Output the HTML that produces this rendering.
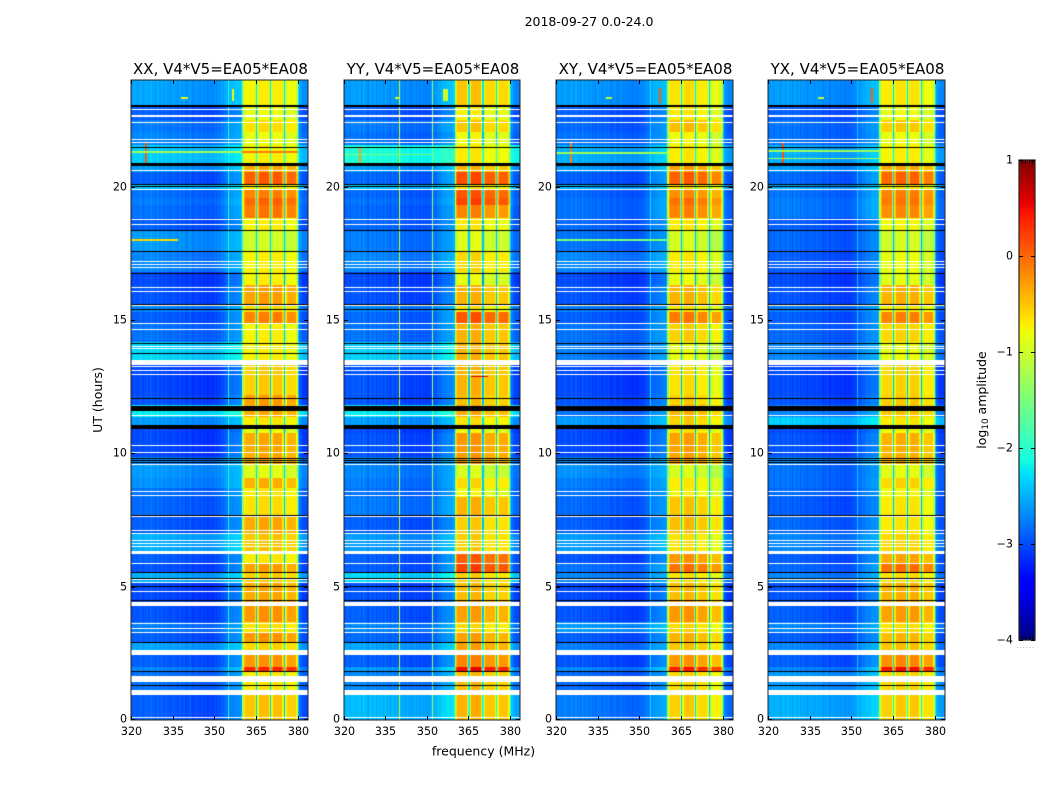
<!DOCTYPE html>
<html lang="en">
<head>
<meta charset="utf-8">
<title>2018-09-27 amplitude waterfall</title>
<style>
html,body{margin:0;padding:0;background:#fff;}
#chart{position:relative;width:1050px;height:800px;overflow:hidden;background:#fff;}
canvas{position:absolute;display:block;}
svg{position:absolute;left:0;top:0;}
text{font-family:"DejaVu Sans","Liberation Sans",sans-serif;fill:#000;}
</style>
</head>
<body>
<div id="chart">
  <canvas id="cv0" width="177" height="640" style="left:131px;top:80px"></canvas>
  <canvas id="cv1" width="176" height="640" style="left:344px;top:80px"></canvas>
  <canvas id="cv2" width="177" height="640" style="left:556px;top:80px"></canvas>
  <canvas id="cv3" width="177" height="640" style="left:768px;top:80px"></canvas>
  <canvas id="cbar" width="16" height="480" style="left:1019px;top:160px"></canvas>
  <svg id="overlay" width="1050" height="800">
    <text x="589" y="26" text-anchor="middle" font-size="12.5">2018-09-27 0.0-24.0</text>
    <text x="483.500" y="755.500" text-anchor="middle" font-size="12.5">frequency (MHz)</text>
    <text x="0" y="0" transform="translate(102 400) rotate(-90)" text-anchor="middle" font-size="12.500">UT (hours)</text>
    <text x="0" y="0" transform="translate(986 400) rotate(-90)" text-anchor="middle" font-size="12.5">log<tspan font-size="8.8" dy="2">10</tspan><tspan dy="-2"> amplitude</tspan></text>
  </svg>
</div>
<script>
// ---- axis categories / tick labels ----
const panelTitles = ["XX, V4*V5=EA05*EA08", "YY, V4*V5=EA05*EA08", "XY, V4*V5=EA05*EA08", "YX, V4*V5=EA05*EA08"];
const xTicks = [320, 335, 350, 365, 380];
const yTicks = [0, 5, 10, 15, 20];
const colorTicks = [1, 0, -1, -2, -3, -4];
const colorMinorTicks = [0.2, 0.4, 0.6, 0.8];

// ---- time bands: start hour of each band (ascending, last one ends at 24 h) ----
const bandStarts = [0,0.94,1.84,1.99,2.62,2.92,3.3,3.67,4.5,5.14,5.55,5.89,6.26,7.01,7.69,8.36,8.7,9.07,9.56,9.86,10.76,11.06,11.36,11.81,12.19,13.5,14.17,14.89,15.3,15.56,16.31,16.8,17.55,18.37,18.82,19.31,19.57,19.87,20.06,20.55,20.89,21.56,22.05,22.5,23.06];

// ---- log10 amplitude inside 360-380 MHz for each band ----
const brightXX = [-.5,-.7,.35,-.25,-.6,-.25,-.65,-.25,-.35,-.55,-.3,-.7,-.5,-.35,-.65,-.7,-.4,-.9,-.35,-.35,-.85,-.7,-.35,-.3,-.55,-.75,-.75,-.15,-.6,-.3,-.75,-.75,-1,-.75,-.1,0,-.15,-.7,.05,-.35,-.75,-.85,-.65,-.85,-.75];
const brightYY = [-.45,-.5,.45,-.2,-.35,-.35,-.65,-.35,-.5,-.6,.15,0,-.6,-.6,-.45,-.85,-.65,-1,-.35,-.3,-.85,-.7,-.4,-.5,-.45,-.45,-.45,.05,-.7,-.45,-.9,-.65,-.95,-.75,-.2,.15,.05,-.7,.1,-.45,-.75,-.85,-.55,-.8,-.55];
const brightXY = [-.6,-.65,.35,-.3,-.55,-.45,-.65,-.3,-.5,-.7,-.1,-.3,-.7,-.5,-.55,-.8,-.75,-1,-.35,-.35,-.7,-.6,-.45,-.6,-.7,-.9,-.6,-.15,-.7,-.45,-.9,-.75,-1,-.75,-.2,-.1,-.25,-.7,0,-.35,-.75,-.85,-.5,-.75,-.7];
const brightYX = [-.55,-.6,.45,-.2,-.5,-.45,-.65,-.3,-.4,-.65,-.05,-.35,-.6,-.7,-.7,-.8,-.6,-.9,-.4,-.4,-.8,-.7,-.5,-.55,-.6,-.85,-.6,-.15,-.7,-.4,-.9,-.85,-1,-.8,-.2,-.1,-.15,-.7,0,-.35,-.75,-.85,-.55,-.85,-.7];

// ---- log10 amplitude of the off-band background for each band ----
const noiseXX = [-3.0,-2.9,-2.8,-3.0,-2.65,-3.0,-2.85,-3.05,-3.1,-2.6,-3.05,-3.0,-2.6,-3.0,-2.95,-2.9,-2.75,-2.7,-2.8,-3.1,-3.1,-2.7,-2.3,-3.05,-3.1,-2.4,-2.9,-3.0,-2.8,-3.05,-3.1,-2.8,-2.7,-3.0,-2.9,-2.85,-2.9,-2.5,-3.0,-2.7,-2.45,-2.8,-2.85,-3.0,-2.65];
const noiseYY = [-2.55,-2.8,-2.7,-3.0,-2.65,-2.95,-2.8,-3.0,-3.05,-2.4,-3.0,-3.0,-2.7,-3.0,-2.85,-2.9,-2.85,-2.8,-2.8,-3.05,-3.1,-2.7,-2.3,-3.05,-3.05,-2.45,-2.9,-2.95,-2.8,-3.05,-3.1,-2.8,-2.85,-2.95,-2.95,-2.9,-2.95,-2.5,-2.95,-2.7,-2.15,-2.9,-2.85,-3.0,-2.7];
const noiseXY = [-2.85,-2.95,-2.8,-3.05,-2.85,-3.0,-2.7,-3.05,-3.1,-2.8,-2.9,-3.05,-2.7,-3.0,-2.95,-2.9,-2.85,-2.75,-2.8,-3.1,-3.1,-2.7,-2.9,-3.05,-3.1,-2.85,-2.9,-3.0,-2.85,-3.05,-3.1,-2.8,-2.9,-2.95,-2.9,-2.9,-2.95,-2.6,-3.0,-2.7,-2.6,-2.9,-2.95,-3.0,-2.7];
const noiseYX = [-2.6,-2.7,-2.8,-3.0,-2.8,-3.0,-2.8,-3.0,-3.05,-2.8,-2.95,-3.0,-2.8,-2.95,-3.0,-2.95,-2.9,-2.9,-2.8,-3.05,-3.1,-2.45,-2.8,-3.05,-3.1,-2.8,-2.95,-3.0,-2.85,-3.05,-3.1,-3.0,-2.95,-3.0,-2.85,-2.85,-2.9,-2.6,-2.95,-2.7,-2.6,-2.9,-2.9,-3.0,-2.7];

// ---- spectral shape: one entry per 0.5 MHz channel from 320 MHz ----
const channelFreqs = [320,320.5,321,321.5,322,322.5,323,323.5,324,324.5,325,325.5,326,326.5,327,327.5,328,328.5,329,329.5,330,330.5,331,331.5,332,332.5,333,333.5,334,334.5,335,335.5,336,336.5,337,337.5,338,338.5,339,339.5,340,340.5,341,341.5,342,342.5,343,343.5,344,344.5,345,345.5,346,346.5,347,347.5,348,348.5,349,349.5,350,350.5,351,351.5,352,352.5,353,353.5,354,354.5,355,355.5,356,356.5,357,357.5,358,358.5,359,359.5,360,360.5,361,361.5,362,362.5,363,363.5,364,364.5,365,365.5,366,366.5,367,367.5,368,368.5,369,369.5,370,370.5,371,371.5,372,372.5,373,373.5,374,374.5,375,375.5,376,376.5,377,377.5,378,378.5,379,379.5,380,380.5,381,381.5,382,382.5,383,383.5];
const bandpassWeight = [
 0,0,0,0,0,0,0,0,0,0,0,0,0,0,0,0,0,0,0,0,0,0,0,0,0,0,0,0,0,0,
 0,0,0,0,0,0,0,0,0,0,0,0,0,0,0,0,0,0,0,0,0,0,0,0,0,0,0,0,0,0,
 0,0,0,.02,.02,.03,.04,.05,.06,.07,.08,.08,.09,.09,.1,.1,.1,.1,.11,.13,
 .7,.92,1,1,1,1,1,1,1,.85,
 .22,.85,1,1,1,1,1,1,1,.85,
 .22,.85,1,1,1,1,1,1,1,.85,
 .22,.85,1,1,1,1,1,1,1,.85,
 .22,.08,.05,.03,.02,.01,.01,.01];
const backgroundTilt = [
 .12,.05,.16,.08,.02,.14,.1,.18,.04,.12,.08,.15,.02,.1,.16,.06,.12,-.02,.1,.14,
 .04,.09,.13,.0,.08,.12,.03,.1,-.03,.06,.11,.02,.07,-.04,.06,.1,-.02,.05,.08,-.05,
 .04,-.03,.06,.0,-.06,.04,-.02,.03,-.07,.02,-.04,.03,-.06,.0,-.03,-.08,.02,-.05,-.02,-.07,
 0,-.05,.02,-.04,.0,.03,-.03,.02,.04,-.02,.05,.02,.06,.03,.05,.07,.04,.08,.06,.1,
 0,0,0,0,0,0,0,0,0,0,0,0,0,0,0,0,0,0,0,0,0,0,0,0,0,0,0,0,0,0,0,0,0,0,0,0,0,0,0,0,
 0,-.02,-.04,-.05,-.06,-.04,-.05,-.03];
const subBandOffsetXX = [0,.05,.05,-.05];
const subBandOffsetYY = [.05,.1,-.05,-.05];
const subBandOffsetXY = [.05,.1,0,-.15];
const subBandOffsetYX = [0,.05,.05,-.1];

// ---- constant-frequency lines: frequency MHz, log10 amplitude ----
const columnLinesXX = [[355,-2.1]];
const columnLinesYY = [[339.8,-1.0],[351.7,-1.35]];
const columnLinesXY = [[354,-2.25]];
const columnLinesYX = [[352,-2.4]];

// ---- interference features: f0, f1 (MHz), h0, h1 (hours), log10 amplitude ----
const featuresXX = [[325,325.8,20.9,21.65,.1],[320,360,21.25,21.32,-1.25],[360,380,21.25,21.32,-.1],[338,340.5,23.3,23.38,-.9],[356.5,357.2,23.2,23.65,-.8],[320,337,17.98,18.04,-.6],[320,384,2.42,2.46,.4]];
const featuresYY = [[325.5,326.2,20.9,21.5,-.3],[320,352,21.18,21.24,-1.5],[356,357.5,23.2,23.65,-1.0],[338.5,340,23.3,23.38,-1.0],[366,372,12.85,12.9,.6],[320,384,2.42,2.46,.4]];
const featuresXY = [[325,325.8,20.9,21.65,-.1],[320,360,21.22,21.3,-1.3],[357,357.8,23.15,23.7,.05],[338,340,23.3,23.38,-1.1],[320,360,17.98,18.03,-1.5],[320,384,2.42,2.46,.4]];
const featuresYX = [[325,325.8,20.9,21.65,.15],[320,360,21.3,21.36,-1.3],[320,360,21.02,21.08,-1.2],[357,357.8,23.15,23.7,.05],[338,340,23.3,23.38,-1.1],[320,384,2.42,2.46,.4]];

// ---- flagged integrations (hours): white = missing, black = zero ----
const whiteThinRows = [.12,1.3,3.31,3.45,3.65,4.85,5.16,5.3,5.87,6.53,6.62,6.74,7,7.12,8.42,8.57,9.6,10.06,10.3,11.42,12.97,13.12,13.27,13.96,14.03,14.67,14.87,15.57,16.07,16.25,17,17.1,17.2,18.6,18.77,19.91,21.69,21.77,22.41,22.91];
const whiteWideRows = [[.94,1.12],[1.43,1.66],[2.44,2.62],[4.29,4.41],[6.22,6.32],[7.6,7.7],[13.32,13.49],[20.57,20.64],[22.6,22.7]];
const blackThinRows = [1.33,1.84,2.91,4.49,5.04,5.34,5.56,7.7,9.67,9.75,9.84,12.06,13.75,14.15,15.4,15.6,16.78,17.58,18.36,20.02,20.11,21.47];
const blackWideRows = [[10.92,11.06],[11.6,11.77],[20.77,20.9],[22.98,23.07]];

// ---- panel bundles ----
const panels = [
 {bright:brightXX, noise:noiseXX, sub:subBandOffsetXX, lines:columnLinesXX, feats:featuresXX},
 {bright:brightYY, noise:noiseYY, sub:subBandOffsetYY, lines:columnLinesYY, feats:featuresYY},
 {bright:brightXY, noise:noiseXY, sub:subBandOffsetXY, lines:columnLinesXY, feats:featuresXY},
 {bright:brightYX, noise:noiseYX, sub:subBandOffsetYX, lines:columnLinesYX, feats:featuresYX}
];

// axis domains
const freqMin = 320, freqMax = 383.7, hourMin = 0, hourMax = 24, colorMin = -4, colorMax = 1;

function lerpStops(t, stops){
  for(let i=1;i<stops.length;i++){
    if(t<=stops[i][0]){
      const a=stops[i-1], b=stops[i];
      return a[1]+(b[1]-a[1])*(t-a[0])/(b[0]-a[0]);
    }
  }
  return stops[stops.length-1][1];
}
const jetR=[[0,0],[.35,0],[.66,1],[.89,1],[1,.5]];
const jetG=[[0,0],[.125,0],[.375,1],[.64,1],[.91,0],[1,0]];
const jetB=[[0,.5],[.11,1],[.34,1],[.65,0],[1,0]];
function jet(v){
  const t=Math.max(0,Math.min(1,(v-colorMin)/(colorMax-colorMin)));
  return 'rgb('+Math.round(255*lerpStops(t,jetR))+','+Math.round(255*lerpStops(t,jetG))+','+Math.round(255*lerpStops(t,jetB))+')';
}

function drawPanel(p, cv){
  const W=cv.width, H=cv.height, ctx=cv.getContext('2d');
  const xScale=f=>(f-freqMin)/(freqMax-freqMin)*W;
  const yScale=h=>H-(h-hourMin)/(hourMax-hourMin)*H;
  const chanW=channelFreqs[1]-channelFreqs[0];
  ctx.fillStyle='#fff';ctx.fillRect(0,0,W,H);
  // cells: band x channel
  bandStarts.forEach((start,b)=>{
    const end=b+1<bandStarts.length?bandStarts[b+1]:hourMax;
    const y0=Math.round(yScale(end)), y1=Math.round(yScale(start));
    channelFreqs.forEach((f,c)=>{
      const x0=Math.round(xScale(f)), x1=Math.min(W,Math.round(xScale(f+chanW)));
      const sb=Math.max(0,Math.min(3,Math.floor((f-360)/5)));
      const bg=p.noise[b]+backgroundTilt[c];
      const v=bg+bandpassWeight[c]*(p.bright[b]+p.sub[sb]-bg);
      ctx.fillStyle=jet(v);
      ctx.fillRect(x0,y0,x1-x0,y1-y0);
    });
  });
  // vertical lines
  p.lines.forEach(l=>{
    ctx.fillStyle=jet(l[1]);
    ctx.fillRect(Math.round(xScale(l[0])),0,1,H);
  });
  // point / streak features
  p.feats.forEach(m=>{
    ctx.fillStyle=jet(m[4]);
    const x0=Math.round(xScale(m[0])), x1=Math.max(x0+1,Math.round(xScale(m[1])));
    const y0=Math.round(yScale(m[3])), y1=Math.max(y0+1,Math.round(yScale(m[2])));
    ctx.fillRect(x0,y0,x1-x0,y1-y0);
  });
  // flagged rows
  const thin=(list,col)=>{
    ctx.fillStyle=col;
    list.forEach(h=>ctx.fillRect(0,Math.round(yScale(h)),W,1));
  };
  const wide=(list,col)=>{
    ctx.fillStyle=col;
    list.forEach(r=>{
      const y0=Math.round(yScale(r[1])), y1=Math.round(yScale(r[0]));
      ctx.fillRect(0,y0,W,y1-y0);
    });
  };
  thin(whiteThinRows,'#fff'); wide(whiteWideRows,'#fff');
  thin(blackThinRows,'#000'); wide(blackWideRows,'#000');
}

const SVGNS='http://www.w3.org/2000/svg';
const overlay=document.getElementById('overlay');
function mk(tag,attrs,parent){
  const el=document.createElementNS(SVGNS,tag);
  for(const k in attrs) el.setAttribute(k,attrs[k]);
  (parent||overlay).appendChild(el);
  return el;
}

panels.forEach((p,i)=>{
  const cv=document.getElementById('cv'+i);
  drawPanel(p,cv);
  const L=cv.offsetLeft, T=cv.offsetTop, W=cv.width, H=cv.height;
  const xPx=f=>L+(f-freqMin)/(freqMax-freqMin)*W;
  const yPx=h=>T+H-(h-hourMin)/(hourMax-hourMin)*H;
  const g=mk('g',{});
  
  
  const frame=mk('rect',{x:L,y:T,width:W,height:H,fill:'none',stroke:'#222','stroke-width':1},g);
  
  
  const title=mk('text',{x:L+W/2+1,y:74,'text-anchor':'middle','font-size':15},g);
  title.textContent=panelTitles[i];
  
  
  xTicks.forEach(t=>{
    const x=Math.round(xPx(t))+.5;
    const tb=mk('line',{x1:x,x2:x,y1:T+H,y2:T+H-4,stroke:'#000','stroke-width':1},g);
    
    
    const tt=mk('line',{x1:x,x2:x,y1:T,y2:T+4,stroke:'#000','stroke-width':1},g);
    
    
    const lb=mk('text',{x:x,y:735,'text-anchor':'middle','font-size':11.1},g);
    lb.textContent=t;
    
    
  });
  yTicks.forEach(t=>{
    const y=Math.round(yPx(t))+(t===0?-.5:.5);
    const tl=mk('line',{x1:L,x2:L+4,y1:y,y2:y,stroke:'#000','stroke-width':1},g);
    
    
    const tr=mk('line',{x1:L+W,x2:L+W-4,y1:y,y2:y,stroke:'#000','stroke-width':1},g);
    
    
    const lb=mk('text',{x:L-4,y:y+3,'text-anchor':'end','font-size':11.1},g);
    lb.textContent=t;
    
    
  });
});

// colorbar
(function(){
  const cv=document.getElementById('cbar'), ctx=cv.getContext('2d');
  const L=cv.offsetLeft, T=cv.offsetTop, W=cv.width, H=cv.height;
  const valueAt=py=>colorMax-(py+.5)/H*(colorMax-colorMin);
  for(let py=0;py<H;py++){
    ctx.fillStyle=jet(valueAt(py));
    ctx.fillRect(0,py,W,1);
  }
  const yPx=v=>T+(colorMax-v)/(colorMax-colorMin)*H;
  const g=mk('g',{});
  
  
  const frame=mk('rect',{x:L,y:T,width:W,height:H,fill:'none',stroke:'#222','stroke-width':1.2},g);
  
  
  colorTicks.forEach(v=>{
    const y=Math.round(yPx(v))+.5;
    const tl=mk('line',{x1:L,x2:L+4,y1:y,y2:y,stroke:'#000','stroke-width':1},g);
    
    
    const tr=mk('line',{x1:L+W,x2:L+W-4,y1:y,y2:y,stroke:'#000','stroke-width':1},g);
    
    
    const lb=mk('text',{x:L-6,y:y+3,'text-anchor':'end','font-size':11.1},g);
    lb.textContent=v<0?'\u2212'+Math.abs(v):String(v);
    
    
  });
  colorMinorTicks.forEach(fr=>{
    const x=Math.round(L+fr*W)+.5;
    const a=mk('line',{x1:x,x2:x,y1:T,y2:T+4,stroke:'#000','stroke-width':.8},g);
    
    
    const b=mk('line',{x1:x,x2:x,y1:T+H,y2:T+H-4,stroke:'#000','stroke-width':.8},g);
    
    
  });
  const dots=mk('text',{x:L+W/2-1,y:T+H+8,'text-anchor':'middle','font-size':6,'letter-spacing':'1.2px',style:'fill:#777'},g);
  dots.textContent='......';
  
  
})();
</script>
</body>
</html>
